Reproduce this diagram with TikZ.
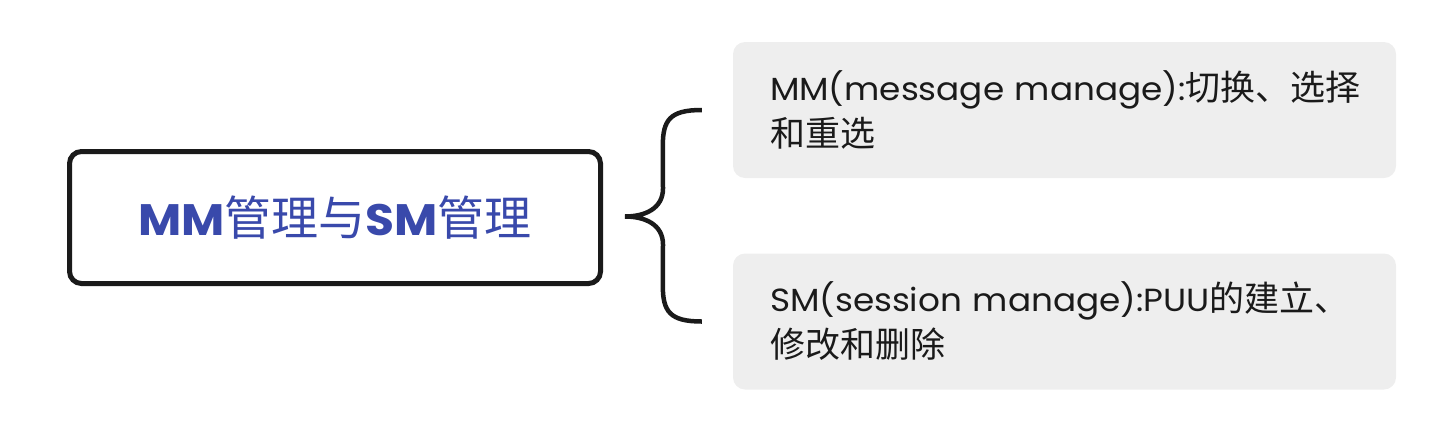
\documentclass[tikz,border=0pt]{standalone}
\usepackage{fontspec}
\setmainfont{Poppins}[FakeStretch=1.07]
\newfontfamily\cjk{Noto Sans CJK SC}
\usetikzlibrary{calc}

\definecolor{rootblue}{HTML}{3949AB}
\definecolor{leafgray}{HTML}{EEEEEE}
\definecolor{inkdark}{HTML}{1A1A1A}

\newcommand{\rootcjk}[1]{{\cjk\mdseries\fontsize{47}{50}\selectfont #1}}
\newcommand{\leafcjk}[1]{{\cjk\fontsize{35}{46}\selectfont #1}}

\tikzset{
  rootbox/.style={draw=inkdark, line width=5pt, rounded corners=12pt, fill=white,
    minimum width=531pt, minimum height=132pt, inner sep=0pt, text=rootblue,
    font=\fontsize{44}{50}\selectfont\bfseries},
  leafbox/.style={fill=leafgray, rounded corners=12pt, minimum width=663pt,
    minimum height=136pt, inner xsep=37pt, inner ysep=0pt, text width=589pt,
    align=left, text=inkdark, font=\fontsize{32}{46}\selectfont},
  bracket/.style={draw=inkdark, line width=4.5pt}
}

\begin{document}
\begin{tikzpicture}[x=1pt,y=-1pt]
  \useasboundingbox (0,0) rectangle (1444,432);

  \node[rootbox] (root) at (335,217.5) {MM\rootcjk{管理与}SM\rootcjk{管理}};

  \node[leafbox] (mm) at (1064.5,110) {\mbox{MM(message manage):\leafcjk{切换、选择}}\\\leafcjk{和重选}};
  \node[leafbox] (sm) at (1064.5,321.5) {\mbox{SM(session manage):PUU\leafcjk{的建立、}}\\\leafcjk{修改和删除}};

  % curly brace from root to the two leaves
  \coordinate (btop) at ($(mm.west)+(-31,0)$);
  \coordinate (bbot) at ($(sm.west)+(-31,0)$);
  \coordinate (btip) at ($(root.east)+(22,-1)$);

  \draw[bracket] (btop) .. controls +(-32,0) and +(0,-26) .. ++(-39,36)
    -- ($(btip)+(38,-28)$) .. controls +(0,20) and +(20,0) .. (btip)
    .. controls +(20,0) and +(0,-20) .. ($(btip)+(38,28)$)
    -- ($(bbot)+(-39,-36)$) .. controls +(0,26) and +(-32,0) .. (bbot);
\end{tikzpicture}
\end{document}
